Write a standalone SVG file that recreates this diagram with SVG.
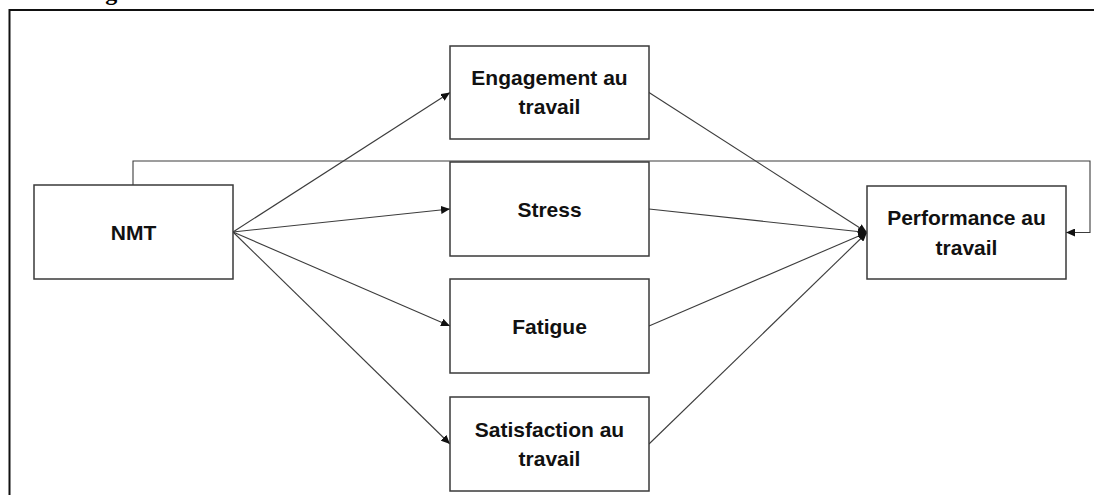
<svg xmlns="http://www.w3.org/2000/svg" width="1094" height="495" viewBox="0 0 1094 495">
  <style>
    .box { fill: #ffffff; stroke: #3a3a3a; stroke-width: 1.5; }
    .lbl { font-family: "Liberation Sans", Arial, sans-serif; font-weight: bold; font-size: 21px; fill: #111111; text-anchor: middle; }
    .edge { fill: none; stroke: #3c3c3c; stroke-width: 1.1; marker-end: url(#arrow); }
    .frame { fill: none; stroke: #111111; stroke-width: 2; }
    .caption { font-family: "Liberation Serif", "Times New Roman", serif; font-weight: bold; font-size: 24px; fill: #000000; }
  </style>
  <defs>
    <marker id="arrow" markerUnits="userSpaceOnUse" markerWidth="10" markerHeight="8" refX="9" refY="4" orient="auto">
      <path d="M0,0 L9,4 L0,8 Z" fill="#111111"/>
    </marker>
  </defs>

  <rect width="1094" height="495" fill="#ffffff"/>

  <!-- caption, mostly above the page edge -->
  <text class="caption" x="84" y="0">Figure</text>

  <!-- outer frame -->
  <path class="frame" d="M9.5,495 L9.5,10 L1094,10"/>

  <!-- connectors -->
  <g id="connectors">
    <path class="edge" d="M233,232 L450,92.5"/>
    <path class="edge" d="M233,232 L450,209"/>
    <path class="edge" d="M233,232 L450,326"/>
    <path class="edge" d="M233,232 L450,444"/>
    <path class="edge" d="M649,92.5 L867,232.5"/>
    <path class="edge" d="M649,209 L867,232.5"/>
    <path class="edge" d="M649,326 L867,232.5"/>
    <path class="edge" d="M649,444 L867,232.5"/>
    <path class="edge" d="M133,185 L133,161 L1090,161 L1090,232.5 L1066,232.5"/>
  </g>

  <g id="nmt">
    <rect class="box" x="34" y="185" width="199" height="94"/>
    <text class="lbl" x="133.5" y="240">NMT</text>
  </g>

  <g id="engagement">
    <rect class="box" x="450" y="46" width="199" height="93"/>
    <text class="lbl" x="549.5" y="85">Engagement au</text>
    <text class="lbl" x="549.5" y="114">travail</text>
  </g>

  <g id="stress">
    <rect class="box" x="450" y="162" width="199" height="94"/>
    <text class="lbl" x="549.5" y="217">Stress</text>
  </g>

  <g id="fatigue">
    <rect class="box" x="450" y="279" width="199" height="94"/>
    <text class="lbl" x="549.5" y="333.5">Fatigue</text>
  </g>

  <g id="satisfaction">
    <rect class="box" x="450" y="397" width="199" height="94"/>
    <text class="lbl" x="549.5" y="437">Satisfaction au</text>
    <text class="lbl" x="549.5" y="466">travail</text>
  </g>

  <g id="performance">
    <rect class="box" x="867" y="186" width="199" height="93"/>
    <text class="lbl" x="966.5" y="225">Performance au</text>
    <text class="lbl" x="966.5" y="255">travail</text>
  </g>
</svg>
